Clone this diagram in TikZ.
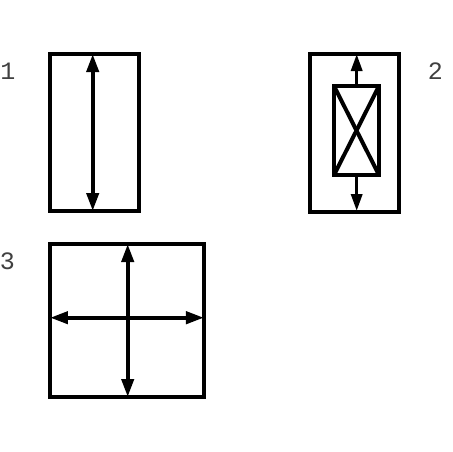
\documentclass[tikz,border=0pt]{standalone}
\usepackage{fontspec}
\setmainfont{Liberation Mono}
\usetikzlibrary{arrows.meta}

\tikzset{
  frame/.style={draw,rectangle,line width=2pt,outer sep=0pt,inner sep=0pt},
  twoway/.style={line width=2pt,{Triangle[width=6pt,length=9pt]}-{Triangle[width=6pt,length=9pt]}},
  oneway/.style={line width=1.7pt,-{Triangle[width=5.5pt,length=8.5pt]}},
  num/.style={font=\fontsize{12.5}{14}\selectfont,text=black!75,inner sep=0pt}
}

\begin{document}
\begin{tikzpicture}[x=0.5pt,y=-0.5pt]

  \useasboundingbox (0,0) rectangle (452,452);

  % box 1
  \node (box1) at (94.5,132.5) [frame,minimum width=44.5pt,minimum height=78.5pt]{};
  \node (lab1) at (8,71.5) [num]{1};

  % box 2
  \node (box2) at (354.5,133) [frame,minimum width=44.5pt,minimum height=79pt]{};
  \node (inner) at (356.5,130.5) [frame,minimum width=22.5pt,minimum height=44.5pt]{};
  \node (lab2) at (435.5,71.5) [num]{2};

  % box 3
  \node (box3) at (127,320.5) [frame,minimum width=77pt,minimum height=76.5pt]{};
  \node (lab3) at (7.5,261.5) [num]{3};

  \coordinate (top1) at (92.7,54);
  \coordinate (bot1) at (92.7,211);
  \draw[twoway] (top1) -- (bot1);

  \coordinate (top2) at (356.7,54);
  \coordinate (bot2) at (356.7,211);
  \draw[oneway] (inner.north -| top2) -- (top2);
  \draw[oneway] (inner.south -| bot2) -- (bot2);
  \draw[line width=2pt] (inner.north west) -- (inner.south east);
  \draw[line width=2pt] (inner.north east) -- (inner.south west);

  \coordinate (top3) at (127.7,244);
  \coordinate (bot3) at (127.7,397);
  \coordinate (left3) at (50,317.7);
  \coordinate (right3) at (204,317.7);
  \draw[twoway] (top3) -- (bot3);
  \draw[twoway] (left3) -- (right3);

\end{tikzpicture}
\end{document}
